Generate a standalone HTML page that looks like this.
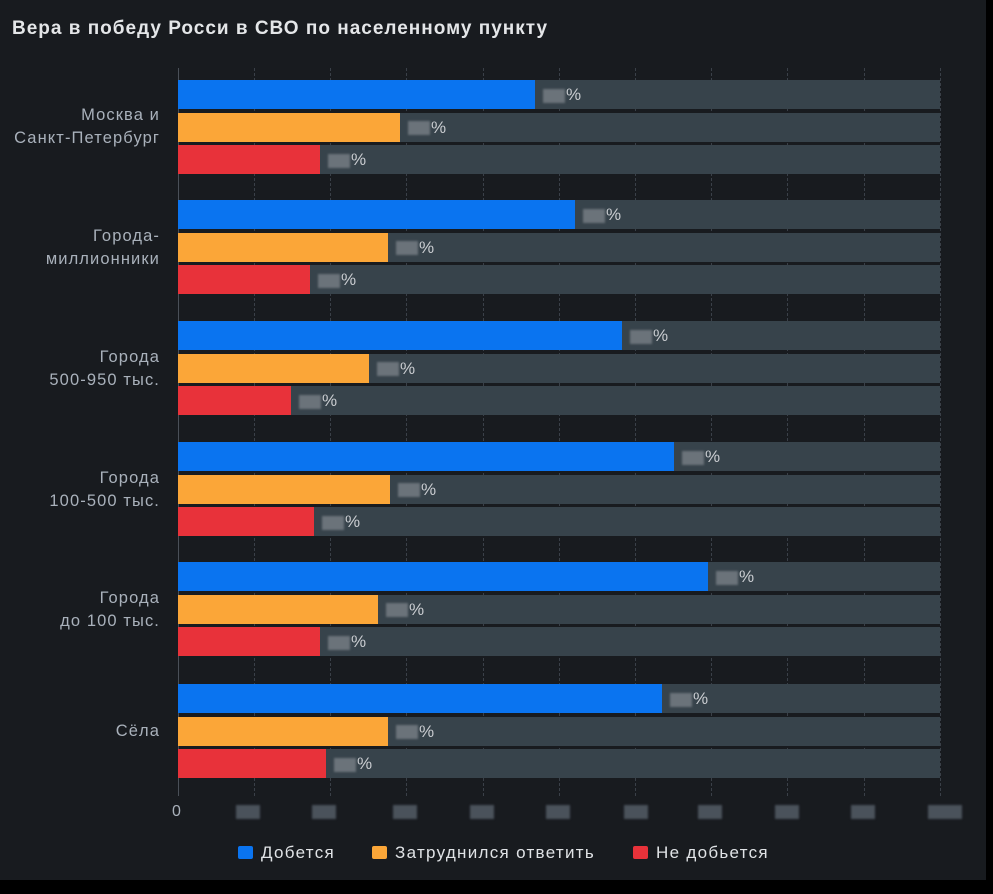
<!DOCTYPE html>
<html><head><meta charset="utf-8"><style>
body{margin:0;width:993px;height:894px;background:#000;overflow:hidden;font-family:"Liberation Sans","DejaVu Sans",sans-serif}
#c{position:absolute;left:0;top:0;width:986px;height:880px;background:#181b1f}
.t{position:absolute;left:12px;top:18px;color:#e4e6e8;font-size:19px;font-weight:bold;letter-spacing:1px}
.g{position:absolute;top:68px;height:728px;width:0;border-left:1px dashed #3a4048}
.tr{position:absolute;left:178px;width:762px;height:29px;background:#37434b}
.b{position:absolute;left:178px;height:29px}
.lb{position:absolute;color:#c9ccd0;font-size:17px;height:29px;line-height:29px}
.bx{display:inline-block;width:22px;height:14px;background:#6b737a;vertical-align:middle;filter:blur(1px);margin-right:1px}
.yl{position:absolute;right:826px;text-align:right;color:#a9b1bb;font-size:16.5px;line-height:23px;letter-spacing:1.1px}
.xl{position:absolute;top:805px;width:24px;height:14px;background:#4a525b;filter:blur(1px)}
.lg{position:absolute;top:843px;color:#e0e3e6;font-size:17px;letter-spacing:1.3px}
.sw{display:inline-block;width:15px;height:13px;border-radius:2px;vertical-align:-1px;margin-right:8px}
</style></head><body><div id="c">
<div class="t">Вера в победу Росси в СВО по населенному пункту</div>
<div class="g" style="left:178px;border-left:1px solid #4a5058"></div>
<div class="g" style="left:254px"></div><div class="g" style="left:330px"></div><div class="g" style="left:406px"></div><div class="g" style="left:483px"></div><div class="g" style="left:559px"></div><div class="g" style="left:635px"></div><div class="g" style="left:711px"></div><div class="g" style="left:787px"></div><div class="g" style="left:864px"></div><div class="g" style="left:940px"></div>
<div id="bars"></div>
<div class="yl" style="top:104px">Москва и<br>Санкт-Петербург</div>
<div class="yl" style="top:225px">Города-<br>миллионники</div>
<div class="yl" style="top:346px">Города<br>500-950 тыс.</div>
<div class="yl" style="top:467px">Города<br>100-500 тыс.</div>
<div class="yl" style="top:587px">Города<br>до 100 тыс.</div>
<div class="yl" style="top:720px">Сёла</div>
<div style="position:absolute;left:172px;top:803px;color:#a9b1bb;font-size:16px">0</div>
<div class="xl" style="left:236px"></div><div class="xl" style="left:312px"></div><div class="xl" style="left:393px"></div><div class="xl" style="left:470px"></div><div class="xl" style="left:546px"></div><div class="xl" style="left:624px"></div><div class="xl" style="left:698px"></div><div class="xl" style="left:775px"></div><div class="xl" style="left:851px"></div><div class="xl" style="left:928px;width:34px"></div>
<div class="lg" style="left:238px"><span class="sw" style="background:#0a74f0"></span>Добется</div>
<div class="lg" style="left:372px"><span class="sw" style="background:#fba638"></span>Затруднился ответить</div>
<div class="lg" style="left:633px"><span class="sw" style="background:#e8323a"></span>Не добьется</div>
</div>
<script>
var tops=[80,200,321,442,562,684],e=[[535,400,320],[575,388,310],[622,369,291],[674,390,314],[708,378,320],[662,388,326]],col=['#0a74f0','#fba638','#e8323a'],h='';
for(var i=0;i<6;i++)for(var j=0;j<3;j++){var y=tops[i]+j*32.5;h+='<div class="tr" style="top:'+y+'px"></div><div class="b" style="top:'+y+'px;width:'+(e[i][j]-178)+'px;background:'+col[j]+'"></div><div class="lb" style="top:'+y+'px;left:'+(e[i][j]+8)+'px"><span class="bx"></span>%</div>';}
document.getElementById('bars').innerHTML=h;
</script>
</body></html>
